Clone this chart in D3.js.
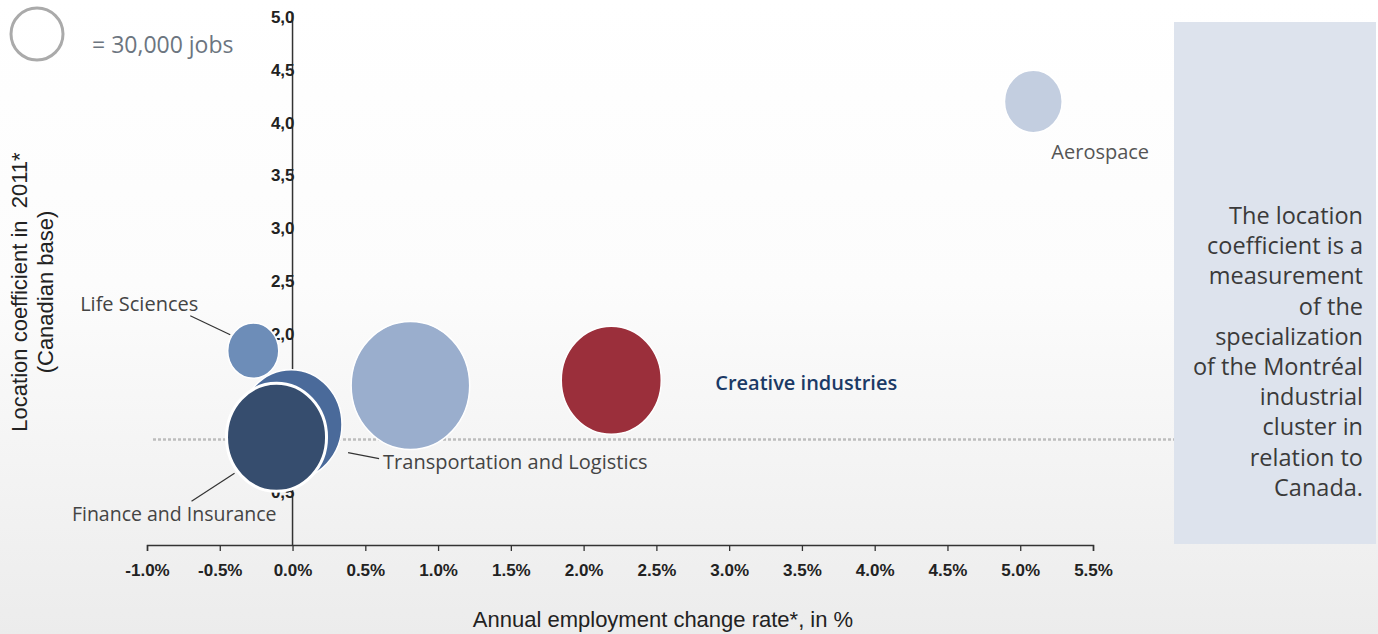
<!DOCTYPE html>
<html>
<head>
<meta charset="utf-8">
<script src="https://cdn.jsdelivr.net/npm/d3@7"></script>
<style>
  html, body { margin: 0; padding: 0; background: #fff; }
  svg { display: block; }
  text { white-space: pre; }
</style>
</head>
<body>
<svg id="chart" width="1378" height="634"></svg>
<script>
// Industrial clusters: employment growth vs. location coefficient, bubble = jobs
const clusters   = ["Aerospace", "Life Sciences", "Information technologies", "Creative industries", "Transportation and Logistics", "Finance and Insurance"];
const growthRate = [5.09, -0.27, 0.81, 2.19, -0.01, -0.11];   // annual employment change, %
const locCoef    = [4.20, 1.84, 1.51, 1.56, 1.14, 1.02];      // location coefficient 2011
const jobs       = [37000, 29000, 156000, 111000, 115000, 111000];
const xTicks     = [-1.0, -0.5, 0.0, 0.5, 1.0, 1.5, 2.0, 2.5, 3.0, 3.5, 4.0, 4.5, 5.0, 5.5];
const yTicks     = [0.5, 1.0, 1.5, 2.0, 2.5, 3.0, 3.5, 4.0, 4.5, 5.0];
const legendJobs = 30000;
const noteLines  = ["The location", "coefficient is a", "measurement", "of the", "specialization",
                    "of the Montréal", "industrial", "cluster in", "relation to", "Canada."];

const colors = {
  "Aerospace": "#c3cee0",
  "Life Sciences": "#6d8db8",
  "Information technologies": "#9aaecd",
  "Creative industries": "#9b2f3b",
  "Transportation and Logistics": "#4a6a9a",
  "Finance and Insurance": "#364d6e"
};

const sansFont = "'Open Sans', Lato, sans-serif";
const axisFont = "'Liberation Sans', Arial, sans-serif";

// label placement relative to bubble centre; leader line endpoints relative too
const labelCfg = {
  "Aerospace": { dx: 18, dy: 58, anchor: "start", color: "#555", size: 20, weight: 400 },
  "Life Sciences": { dx: -55, dy: -40, anchor: "end", color: "#444", size: 20, weight: 400, line: [-63, -35, -23, -16] },
  "Creative industries": { dx: 104, dy: 10, anchor: "start", color: "#1b3a66", size: 20, weight: 600 },
  "Transportation and Logistics": { dx: 92, dy: 44, anchor: "start", color: "#444", size: 20, weight: 400, line: [57, 28, 88, 34] },
  "Finance and Insurance": { dx: 0, dy: 84, anchor: "end", color: "#444", size: 19.5, weight: 400, line: [-85, 64, -42, 36] }
};

const data = clusters.map((name, i) => ({ name, x: growthRate[i], y: locCoef[i], jobs: jobs[i] }));

const svg = d3.select("#chart");
const W = 1378, H = 634;

// soft background wash
const defs = svg.append("defs");
const bg = defs.append("linearGradient").attr("id", "bg").attr("x1", 0).attr("y1", 0).attr("x2", 0).attr("y2", 1);
bg.append("stop").attr("offset", "0%").attr("stop-color", "#ffffff");
bg.append("stop").attr("offset", "45%").attr("stop-color", "#fcfcfc");
bg.append("stop").attr("offset", "100%").attr("stop-color", "#ececec");
svg.append("rect").attr("width", W).attr("height", H).attr("fill", "url(#bg)");

const x = d3.scaleLinear().domain([-1.0, 5.5]).range([147, 1093]);
const y = d3.scaleLinear().domain([0, 5.0]).range([545, 17]);
const r = d3.scaleSqrt().domain([0, legendJobs]).range([0, 26]);
const stretch = 1.08;

// reference line at coefficient 1.0
svg.append("line")
  .attr("x1", 153).attr("x2", W)
  .attr("y1", y(1.0)).attr("y2", y(1.0))
  .attr("stroke", "#bdbdbd").attr("stroke-width", 2.5)
  .attr("stroke-dasharray", "3,2");

// note panel
svg.append("rect").attr("x", 1174).attr("y", 22).attr("width", 202).attr("height", 522).attr("fill", "#dde3ed");
svg.append("text")
  .attr("text-anchor", "end")
  .attr("font-family", sansFont)
  .attr("font-size", 23.5).attr("fill", "#3a3a3a")
  .selectAll("tspan").data(noteLines).join("tspan")
  .attr("x", 1363).attr("y", (d, i) => 224 + i * 30.2)
  .text(d => d);

// x axis
const fmtPct = d => d3.format(".1f")(d).replace("\u2212", "-") + "%";
const xAxis = svg.append("g").attr("transform", `translate(0,${y(0)})`)
  .call(d3.axisBottom(x).tickValues(xTicks).tickSize(6).tickPadding(13).tickFormat(fmtPct));
xAxis.select(".domain").attr("stroke", "#333").attr("stroke-width", 1.5);
xAxis.selectAll(".tick line").attr("stroke", "#333").attr("stroke-width", 1.3);
xAxis.selectAll(".tick text")
  .attr("font-family", axisFont)
  .attr("font-size", 17).attr("font-weight", "bold").attr("fill", "#222");

// y axis through x = 0
const yAxis = svg.append("g").attr("transform", `translate(${x(0)},0)`)
  .call(d3.axisLeft(y).tickValues(yTicks).tickSize(0).tickPadding(-2)
    .tickFormat(d => d3.format(".1f")(d).replace(".", ",")));
yAxis.select(".domain").attr("d", `M0,13V${y(0)}`).attr("stroke", "#333").attr("stroke-width", 1.5);
yAxis.selectAll(".tick text")
  .attr("font-family", axisFont)
  .attr("font-size", 17).attr("font-weight", "bold").attr("fill", "#222");

// axis titles
svg.append("text")
  .attr("x", 663).attr("y", 627).attr("text-anchor", "middle")
  .attr("font-family", axisFont)
  .attr("font-size", 22).attr("fill", "#222")
  .text("Annual employment change rate*, in %");

const yTitle = svg.append("text")
  .attr("transform", "translate(0,292) rotate(-90)")
  .attr("text-anchor", "middle")
  .attr("font-family", axisFont)
  .attr("font-size", 22).attr("fill", "#222");
yTitle.append("tspan").attr("x", 0).attr("y", 27).text("Location coefficient in  2011*");
yTitle.append("tspan").attr("x", 0).attr("y", 53).text("(Canadian base)");

// bubbles
svg.append("g").selectAll("ellipse").data(data).join("ellipse")
  .attr("cx", d => x(d.x))
  .attr("cy", d => y(d.y))
  .attr("rx", d => r(d.jobs))
  .attr("ry", d => r(d.jobs) * stretch)
  .attr("fill", d => colors[d.name])
  .attr("stroke", "#ffffff")
  .attr("stroke-width", d => d.name === "Finance and Insurance" ? 3 : 1.5);

// labels and leader lines
const labelled = data.filter(d => labelCfg[d.name]);
svg.append("g").selectAll("line").data(labelled.filter(d => labelCfg[d.name].line)).join("line")
  .attr("x1", d => x(d.x) + labelCfg[d.name].line[0])
  .attr("y1", d => y(d.y) + labelCfg[d.name].line[1])
  .attr("x2", d => x(d.x) + labelCfg[d.name].line[2])
  .attr("y2", d => y(d.y) + labelCfg[d.name].line[3])
  .attr("stroke", "#333").attr("stroke-width", 1.2);

svg.append("g").selectAll("text").data(labelled).join("text")
  .attr("x", d => x(d.x) + labelCfg[d.name].dx)
  .attr("y", d => y(d.y) + labelCfg[d.name].dy)
  .attr("text-anchor", d => labelCfg[d.name].anchor)
  .attr("font-family", sansFont)
  .attr("font-size", d => labelCfg[d.name].size)
  .attr("font-weight", d => labelCfg[d.name].weight)
  .attr("fill", d => labelCfg[d.name].color)
  .text(d => d.name);

// size legend
svg.append("circle").attr("cx", 37).attr("cy", 34).attr("r", r(legendJobs))
  .attr("fill", "none").attr("stroke", "#aaaaaa").attr("stroke-width", 3);
svg.append("text").attr("x", 92).attr("y", 53)
  .attr("font-family", sansFont)
  .attr("font-size", 23).attr("fill", "#6c757f")
  .text("= " + d3.format(",")(legendJobs) + " jobs");
</script>
</body>
</html>
